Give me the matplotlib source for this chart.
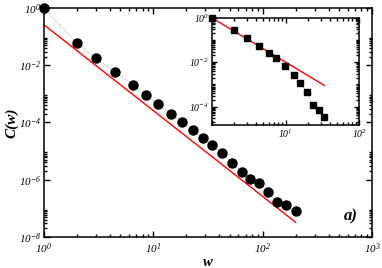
import matplotlib
matplotlib.use("Agg")
import matplotlib.pyplot as plt
import numpy as np
from matplotlib.ticker import FixedLocator, FuncFormatter, NullFormatter

plt.rcParams["font.family"] = ["Liberation Serif", "DejaVu Serif"]
plt.rcParams["mathtext.fontset"] = "custom"
plt.rcParams["mathtext.rm"] = "Liberation Serif:italic"
plt.rcParams["mathtext.it"] = "Liberation Serif:italic"
plt.rcParams["axes.linewidth"] = 1.1

# main panel: C(w) vs w (log-binned)
w_main = [1.0, 2.0, 3.0, 4.5, 6.5, 8.5, 11.0, 14.5, 18.4, 22.9, 28.3,
          34.7, 42.8, 52.5, 65.3, 76.7, 93.0, 112.0, 136.0, 165.0, 200.0]
logC_main = [0.0, -1.22, -1.76, -2.24, -2.70, -3.03, -3.35, -3.70, -4.00,
             -4.27, -4.53, -4.80, -5.08, -5.42, -5.73, -5.99, -6.11, -6.42,
             -6.79, -6.90, -7.11]
C_main = [10 ** v for v in logC_main]

# main panel power-law guide: C = A w^-3
fit_main_w = [1.0, 200.0]
fit_main_A = 0.26
fit_main_exp = -3.0

# inset data
w_ins = [1.0, 2.0, 3.0, 4.4, 6.0, 7.4, 9.8, 12.9, 15.7, 19.3, 23.4, 28.2, 33.4]
logC_ins = [0.0, -0.57, -0.93, -1.27, -1.60, -1.83, -2.18, -2.59, -2.92,
            -3.35, -3.95, -4.15, -4.49]
C_ins = [10 ** v for v in logC_ins]

# inset guide: C = w^-2
fit_ins_w = [1.0, 33.4]
fit_ins_A = 1.0
fit_ins_exp = -2.0


def pow_label(v, pos):
    e = int(round(np.log10(v)))
    return r"$\mathrm{10^{%d}}$" % e


def style_axis(ax, ymajor, yminor, fs):
    ax.set_xscale("log")
    ax.set_yscale("log")
    ax.yaxis.set_major_locator(FixedLocator(ymajor))
    ax.yaxis.set_minor_locator(FixedLocator(yminor))
    ax.yaxis.set_minor_formatter(NullFormatter())
    ax.xaxis.set_minor_formatter(NullFormatter())
    ax.xaxis.set_major_formatter(FuncFormatter(pow_label))
    ax.yaxis.set_major_formatter(FuncFormatter(pow_label))
    ax.tick_params(which="both", direction="in", top=True, right=True,
                   labelsize=fs, width=1.0, pad=2)
    ax.tick_params(which="major", length=4)
    ax.tick_params(which="minor", length=2.5)


fig = plt.figure(figsize=(3.82, 2.68), dpi=100)
ax = fig.add_axes([0.115, 0.116, 0.859, 0.854])

fw = np.array(fit_main_w)
ax.plot(fw, fit_main_A * fw ** fit_main_exp, color="red", lw=1.0, zorder=2)
ax.plot(w_main, C_main, color="gray", lw=0.5, ls=":", zorder=3)
ax.plot(w_main, C_main, "o", color="black", ms=6.5, zorder=4, clip_on=False)
ax.set_xlim(1, 1000)
ax.set_ylim(1e-8, 1)
main_major = [1e-8, 1e-6, 1e-4, 1e-2, 1]
main_minor = [k * 10.0 ** d for d in (-8, -6, -4, -2) for k in range(2, 10)]
style_axis(ax, main_major, main_minor, 8)
ax.tick_params(axis="x", which="both", pad=3.5)
ax.set_xticks([1, 10, 100, 1000])
ax.xaxis.set_major_formatter(FuncFormatter(pow_label))
ax.set_xlabel("w", fontsize=10.5, fontweight="bold", style="italic", labelpad=0)
ax.set_ylabel("C(w)", fontsize=11, fontweight="bold", style="italic", labelpad=0)
ax.text(0.955, 0.055, "a)", transform=ax.transAxes, fontsize=12,
        fontweight="bold", style="italic", ha="right", va="bottom")

ins = fig.add_axes([0.554, 0.534, 0.387, 0.400])
fi = np.array(fit_ins_w)
ins.plot(fi, fit_ins_A * fi ** fit_ins_exp, color="red", lw=1.0, zorder=2)
ins.plot(w_ins, C_ins, color="gray", lw=0.5, ls=":", zorder=3)
ins.plot(w_ins, C_ins, "s", color="black", ms=5, zorder=4, clip_on=False)
ins.set_xlim(1, 100)
ins.set_ylim(1.5e-5, 1)
ins_major = [1e-4, 1e-2, 1]
ins_minor = [k * 10.0 ** d for d in range(-5, 0) for k in range(1, 10)
             if not (k == 1 and d % 2 == 0)]
style_axis(ins, ins_major, ins_minor, 7)
ins.set_xticks([1, 10, 100])
ins.set_xticklabels(["", r"$\mathrm{10^{1}}$", r"$\mathrm{10^{2}}$"])
ins.tick_params(which="major", length=3.5)
ins.tick_params(which="minor", length=2)

fig.savefig("out.png", dpi=100)
